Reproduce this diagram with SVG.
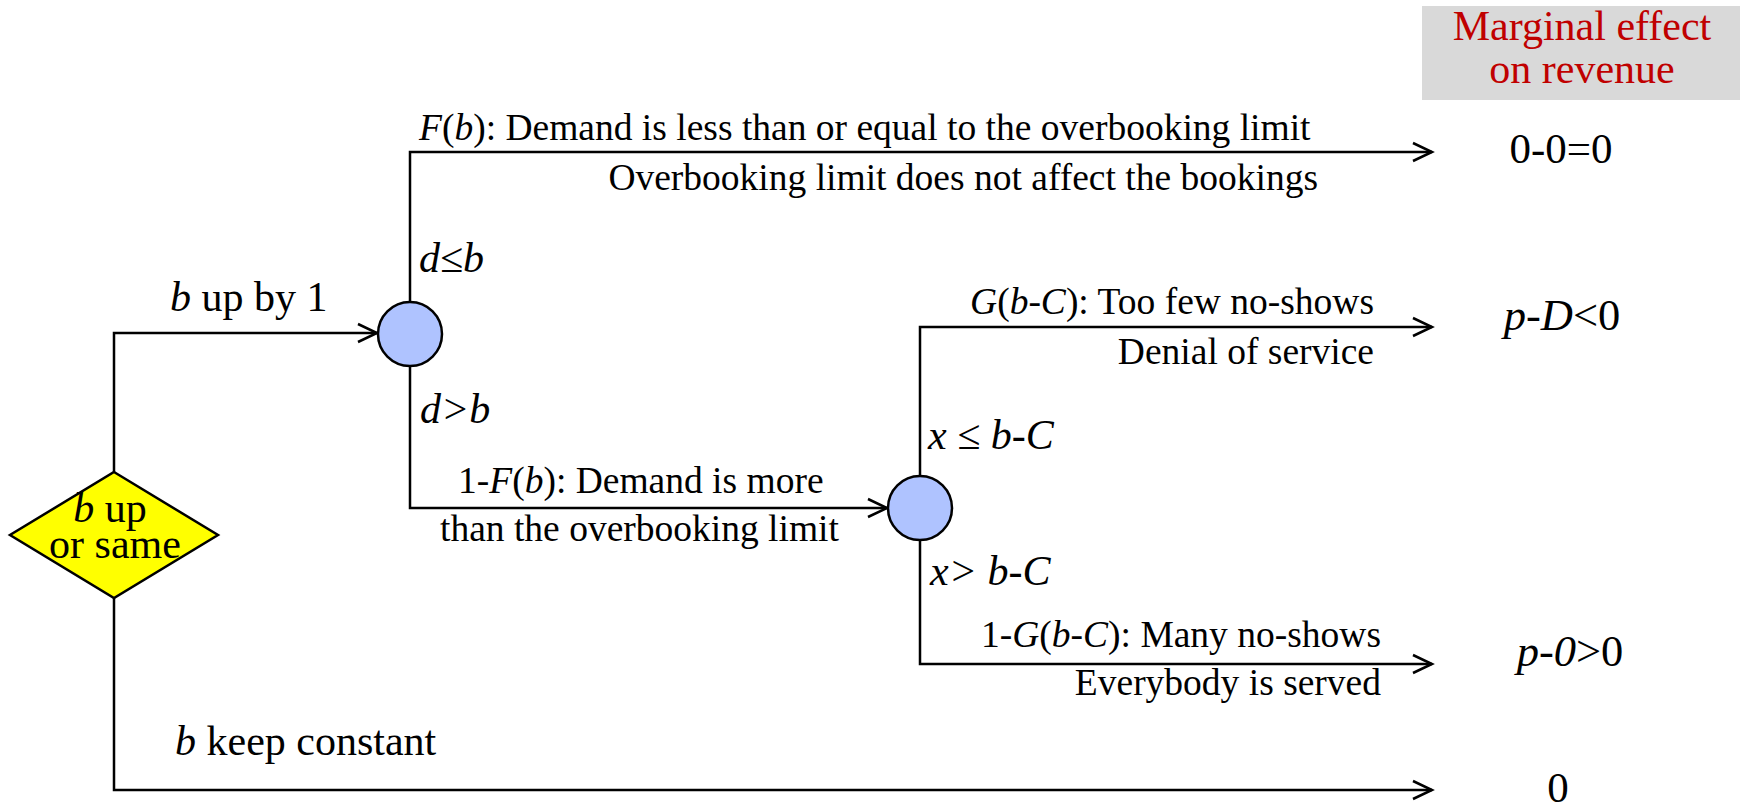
<svg xmlns="http://www.w3.org/2000/svg" width="1740" height="805" viewBox="0 0 1740 805">
<style>
text { font-family: "Liberation Serif", "Times New Roman", serif; fill: #000; }
.cond { font-size: 42px; }
.desc { font-size: 37.5px; }
.val { font-size: 43px; }
.val2 { font-size: 44.5px; }
.hdr { font-size: 42px; fill: #C00000; }
.i { font-style: italic; }
.line { fill: none; stroke: #000; stroke-width: 2.5; }
.chance { fill: #AFC3FF; stroke: #000; stroke-width: 2.5; }
.decision { fill: #FFFF00; stroke: #000; stroke-width: 2.5; }
</style>
<defs>
<marker id="arr" markerUnits="userSpaceOnUse" markerWidth="24" markerHeight="24" viewBox="-22 -12 24 24" refX="0" refY="0" orient="auto" overflow="visible">
<path d="M-19,-9 L0,0 L-19,9" fill="none" stroke="#000" stroke-width="2.5"/>
</marker>
</defs>

<g id="header">
<rect x="1422" y="6" width="318" height="94" fill="#D9D9D9"/>
<text class="hdr" x="1582" y="40" text-anchor="middle">Marginal effect</text>
<text class="hdr" x="1582" y="83" text-anchor="middle">on revenue</text>
</g>

<g id="connectors">
<path class="line" d="M114,472 V333 H377" marker-end="url(#arr)"/>
<path class="line" d="M114,598 V790 H1432" marker-end="url(#arr)"/>
<path class="line" d="M410,302 V152 H1432" marker-end="url(#arr)"/>
<path class="line" d="M410,366 V508 H887" marker-end="url(#arr)"/>
<path class="line" d="M920,476 V327 H1432" marker-end="url(#arr)"/>
<path class="line" d="M920,540 V664 H1432" marker-end="url(#arr)"/>
</g>

<g id="decision">
<polygon class="decision" points="114,472 218,535 114,598 10,535"/>
<text class="cond" x="110" y="522" text-anchor="middle"><tspan class="i">b</tspan> up</text>
<text class="cond" x="115" y="558" text-anchor="middle">or same</text>
</g>

<g id="chance1">
<circle class="chance" cx="410" cy="334" r="32"/>
</g>

<g id="chance2">
<circle class="chance" cx="920" cy="508" r="32"/>
</g>

<g id="labels">
<text class="cond" x="170" y="311"><tspan class="i">b</tspan> up by 1</text>
<text class="cond" x="175" y="755"><tspan class="i">b</tspan> keep constant</text>
<text class="cond i" x="419" y="272">d≤b</text>
<text class="cond i" x="420" y="423">d&gt;b</text>
<text class="cond i" x="928" y="449">x ≤ b-C</text>
<text class="cond i" x="930" y="585">x&gt; b-C</text>

<text class="desc" x="419" y="140"><tspan class="i">F</tspan>(<tspan class="i">b</tspan>): Demand is less than or equal to the overbooking limit</text>
<text class="desc" x="1318" y="190" text-anchor="end">Overbooking limit does not affect the bookings</text>
<text class="desc" x="458" y="493">1-<tspan class="i">F</tspan>(<tspan class="i">b</tspan>): Demand is more</text>
<text class="desc" x="440" y="541">than the overbooking limit</text>
<text class="desc" x="1374" y="314" text-anchor="end"><tspan class="i">G</tspan>(<tspan class="i">b-C</tspan>): Too few no-shows</text>
<text class="desc" x="1374" y="364" text-anchor="end">Denial of service</text>
<text class="desc" x="1381" y="647" text-anchor="end">1-<tspan class="i">G</tspan>(<tspan class="i">b-C</tspan>): Many no-shows</text>
<text class="desc" x="1381" y="695" text-anchor="end">Everybody is served</text>
</g>

<g id="values">
<text class="val" x="1561" y="163" text-anchor="middle">0-0=0</text>
<text class="val2" x="1562" y="330" text-anchor="middle"><tspan class="i">p-D</tspan>&lt;0</text>
<text class="val2" x="1570" y="666" text-anchor="middle"><tspan class="i">p-0</tspan>&gt;0</text>
<text class="val" x="1558" y="802" text-anchor="middle">0</text>
</g>
</svg>
